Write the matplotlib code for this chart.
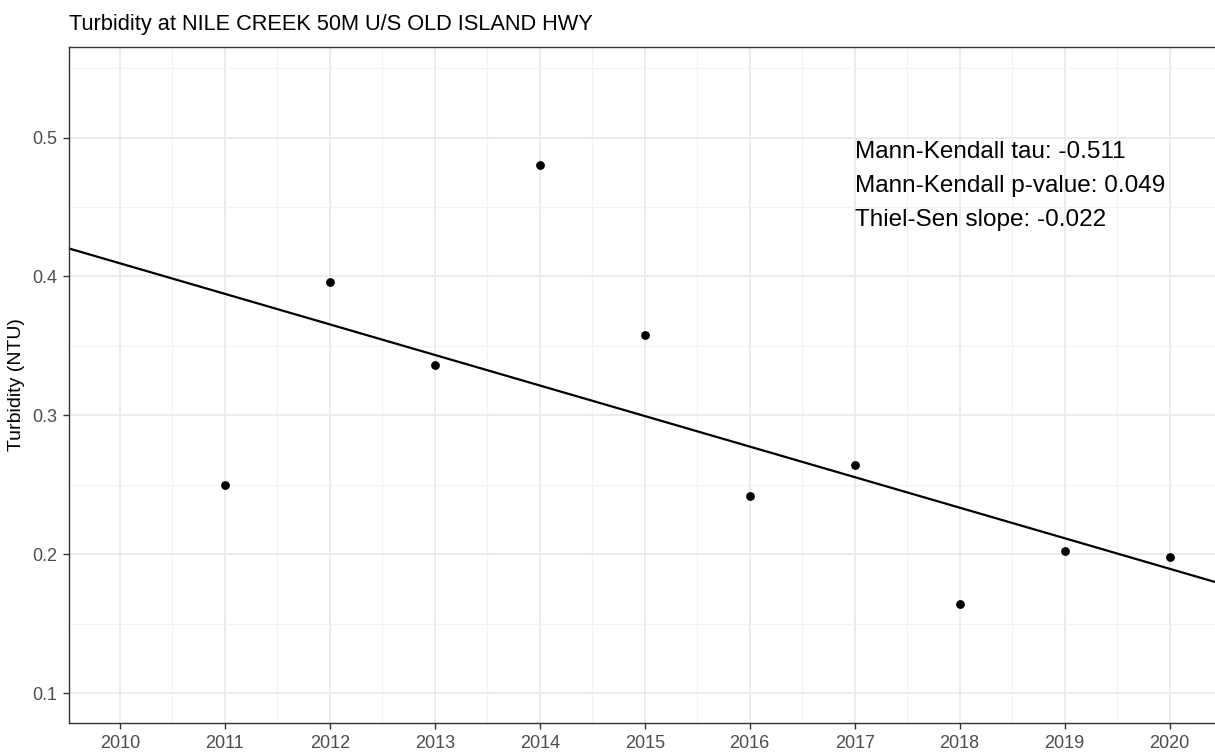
import numpy as np
import matplotlib
matplotlib.use("Agg")
import matplotlib.pyplot as plt
from matplotlib.ticker import MultipleLocator

plt.rcParams['font.family'] = ['Liberation Sans', 'DejaVu Sans']

# --- annual turbidity values --- #
years = [2011, 2012, 2013, 2014, 2015, 2016, 2017, 2018, 2019, 2020]
turbidity = [0.250, 0.396, 0.336, 0.480, 0.358, 0.242, 0.264, 0.164, 0.202, 0.198]

# trend stats
mk_tau = -0.511
mk_p = 0.049
sen_slope = -0.022  # NTU per year
sen_at_2015 = 0.2995  # trend line value in 2015

station = "NILE CREEK 50M U/S OLD ISLAND HWY"

fig = plt.figure(figsize=(12.15, 7.53), dpi=100)
ax = fig.add_axes([69/1215, 30/753, 1153/1215, 676.3/753])

ax.scatter(years, turbidity, s=40, color='black', zorder=3, linewidths=0)
ax.axline((2015, sen_at_2015), slope=sen_slope, color='black', lw=1.6, zorder=2)

ax.set_xlim(2009.515, 2020.5)
ax.set_ylim(0.0784, 0.5655)
ax.xaxis.set_major_locator(MultipleLocator(1))
ax.xaxis.set_minor_locator(MultipleLocator(0.5))
ax.yaxis.set_major_locator(MultipleLocator(0.1))
ax.yaxis.set_minor_locator(MultipleLocator(0.05))
ax.set_xticks(range(2010, 2021))
ax.set_xticklabels([str(y) for y in range(2010, 2021)])
ax.set_yticks([0.1, 0.2, 0.3, 0.4, 0.5])
ax.set_yticklabels(['0.1', '0.2', '0.3', '0.4', '0.5'])

ax.grid(which='major', color='#ebebeb', lw=1.3, zorder=0)
ax.grid(which='minor', color='#f2f2f2', lw=0.8, zorder=0)
ax.set_axisbelow(True)

for s in ax.spines.values():
    s.set_color('#333333')
    s.set_linewidth(1.0)

ax.tick_params(which='major', length=4.5, width=1.0, color='#333333',
               labelsize=13, labelcolor='#4d4d4d', pad=4)
ax.tick_params(which='minor', length=0)

ax.set_ylabel("Turbidity (NTU)", fontsize=14, color='black', labelpad=5)
ax.set_title(f"Turbidity at {station}", fontsize=15.7, loc='left',
             color='black', pad=12, x=0.0)

stats = [f"Mann-Kendall tau: {mk_tau:.3f}",
         f"Mann-Kendall p-value: {mk_p:.3f}",
         f"Thiel-Sen slope: {sen_slope:.3f}"]
for i, txt in enumerate(stats):
    ax.text(2017, 0.49 - 0.0247*i, txt, fontsize=17.5, ha='left', va='center',
            color='black')

fig.savefig("out.png", dpi=100)
